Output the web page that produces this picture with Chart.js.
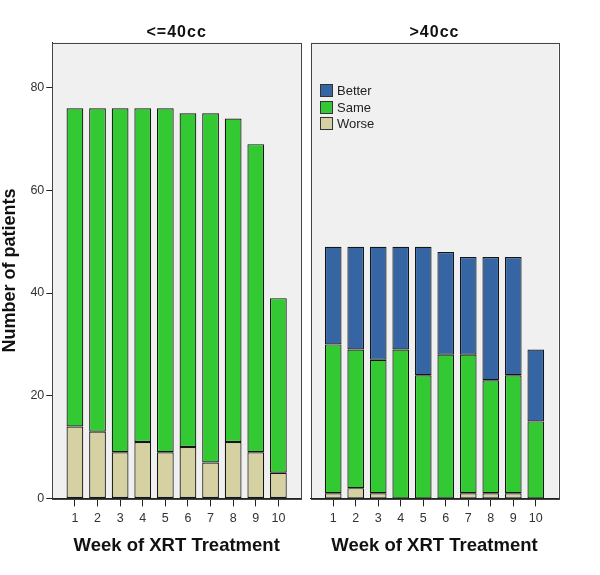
<!DOCTYPE html>
<html>
<head>
<meta charset="utf-8">
<script src="https://cdn.jsdelivr.net/npm/chart.js@4.4.0/dist/chart.umd.min.js"></script>
<style>
  html, body { margin: 0; padding: 0; background: #fff; }
  #wrap { position: relative; width: 600px; height: 575px; font-family: 'Liberation Sans', Arial, sans-serif; }
  canvas { position: absolute; top: 0; }
  #c1 { left: 0; }
  #c2 { left: 306px; }
  .ptitle { position: absolute; top: 22px; height: 20px; line-height: 20px; text-align: center; font-weight: bold; font-size: 16px; letter-spacing: 1px; color: #111; }
  .leg { position: absolute; left: 320px; font-size: 13px; color: #222; height: 13px; line-height: 13px; }
  .leg span.box { position: absolute; left: 0; top: 0; width: 11px; height: 11px; border: 1px solid #333; }
  .leg span.txt { position: absolute; left: 17px; top: 0; white-space: nowrap; }
</style>
</head>
<body>
<div id="wrap">
  <canvas id="c1" width="306" height="575"></canvas>
  <canvas id="c2" width="294" height="575"></canvas>
  <div id="titles"></div>
  <div id="legend"></div>
</div>
<script>
// ---- data ----
const weeks = ['1','2','3','4','5','6','7','8','9','10'];
const yTicks = [0, 20, 40, 60, 80];
const panelTitles = ['<=40cc', '>40cc'];
const seriesNames = ['Better', 'Same', 'Worse'];
// <=40cc
const smallWorse  = [14, 13, 9, 11, 9, 10, 7, 11, 9, 5];
const smallSame   = [62, 63, 67, 65, 67, 65, 68, 63, 60, 34];
const smallBetter = [0, 0, 0, 0, 0, 0, 0, 0, 0, 0];
// >40cc
const largeWorse  = [1, 2, 1, 0, 0, 0, 1, 1, 1, 0];
const largeSame   = [29, 27, 26, 29, 24, 28, 27, 22, 23, 15];
const largeBetter = [19, 20, 22, 20, 25, 20, 19, 24, 23, 14];

const colors = { Better: '#3565a2', Same: '#33c933', Worse: '#d5d1a2' };
const FONT = "'Liberation Sans', Arial, sans-serif";
const yMax = 88.8;

const padLabels = ['', ...weeks, ''];
const pad = arr => [null, ...arr, null];

const framePlugin = {
  id: 'frame',
  beforeDraw(chart) {
    const a = chart.chartArea, ctx = chart.ctx;
    ctx.save();
    ctx.fillStyle = '#f0f0f0';
    ctx.fillRect(a.left, a.top, a.right - a.left, a.bottom - a.top);
    ctx.restore();
  },
  afterDraw(chart) {
    const a = chart.chartArea, ctx = chart.ctx;
    ctx.save();
    ctx.strokeStyle = '#444';
    ctx.lineWidth = 1;
    ctx.strokeRect(Math.round(a.left) + 0.5, Math.round(a.top) + 0.5, Math.round(a.right - a.left), Math.round(a.bottom - a.top));
    ctx.strokeStyle = '#222';
    ctx.beginPath();
    ctx.moveTo(a.left, Math.round(a.bottom) + 0.5);
    ctx.lineTo(a.right, Math.round(a.bottom) + 0.5);
    ctx.stroke();
    ctx.restore();
  }
};

function makeChart(id, worse, same, better, showY) {
  const ds = (label, data) => ({
    label, data: pad(data),
    backgroundColor: colors[label],
    borderColor: '#151515', borderWidth: 1.2, borderSkipped: false,
    barPercentage: 0.74, categoryPercentage: 1.0
  });
  return new Chart(document.getElementById(id), {
    type: 'bar',
    data: {
      labels: padLabels,
      datasets: [ds(seriesNames[2], worse), ds(seriesNames[1], same), ds(seriesNames[0], better)]
    },
    options: {
      responsive: false,
      animation: false,
      layout: { padding: showY ? { left: 0, right: 5, top: 42.5, bottom: 0 } : { left: 4.7, right: 41.7, top: 42.5, bottom: 0 } },
      plugins: {
        legend: { display: false },
        tooltip: { enabled: false },
        title: { display: false }
      },
      scales: {
        x: {
          stacked: true,
          offset: false,
          grid: { display: true, offset: false, drawOnChartArea: false, drawTicks: true, tickLength: 8, color: '#222', tickWidth: 1 },
          border: { display: true, color: '#222' },
          ticks: { color: '#333', font: { family: FONT, size: 12.5 }, padding: 5, maxRotation: 0, autoSkip: false },
          afterBuildTicks: s => { s.ticks = s.ticks.filter(t => padLabels[t.value] !== ''); },
          afterFit: s => { s.height = 76.6; },
          title: {
            display: true, text: 'Week of XRT Treatment', color: '#111',
            font: { family: FONT, size: 18.5, weight: 'bold', lineHeight: 1.2 },
            padding: { top: 0, bottom: 18 }
          }
        },
        y: {
          stacked: true,
          display: showY,
          min: 0, max: yMax,
          grid: { display: true, drawOnChartArea: false, drawTicks: true, tickLength: 6, color: '#222' },
          border: { display: true, color: '#222' },
          ticks: { stepSize: 20, color: '#333', font: { family: FONT, size: 12.5 }, padding: 2 },
          afterBuildTicks: s => { s.ticks = s.ticks.filter(t => yTicks.includes(t.value)); },
          afterFit: s => { if (showY) s.width = 52.3; },
          title: {
            display: true, text: 'Number of patients', color: '#111',
            font: { family: FONT, size: 18, weight: 'bold', lineHeight: 1.1 },
            padding: { top: 0, bottom: 0 }
          }
        }
      }
    },
    plugins: [framePlugin]
  });
}

const charts = [
  makeChart('c1', smallWorse, smallSame, smallBetter, true),
  makeChart('c2', largeWorse, largeSame, largeBetter, false)
];
const offsets = [0, 306];

// panel titles, centred above each plot area
const titlesEl = document.getElementById('titles');
charts.forEach((ch, i) => {
  const a = ch.chartArea;
  const d = document.createElement('div');
  d.className = 'ptitle';
  d.style.left = (offsets[i] + a.left) + 'px';
  d.style.width = (a.right - a.left) + 'px';
  d.textContent = panelTitles[i];
  titlesEl.appendChild(d);
});

// legend (inside right panel)
const legendEl = document.getElementById('legend');
seriesNames.forEach((name, i) => {
  const d = document.createElement('div');
  d.className = 'leg';
  d.style.top = (84 + i * 16.7) + 'px';
  d.innerHTML = '<span class="box" style="background:' + colors[name] + '"></span><span class="txt">' + name + '</span>';
  legendEl.appendChild(d);
});
</script>
</body>
</html>
